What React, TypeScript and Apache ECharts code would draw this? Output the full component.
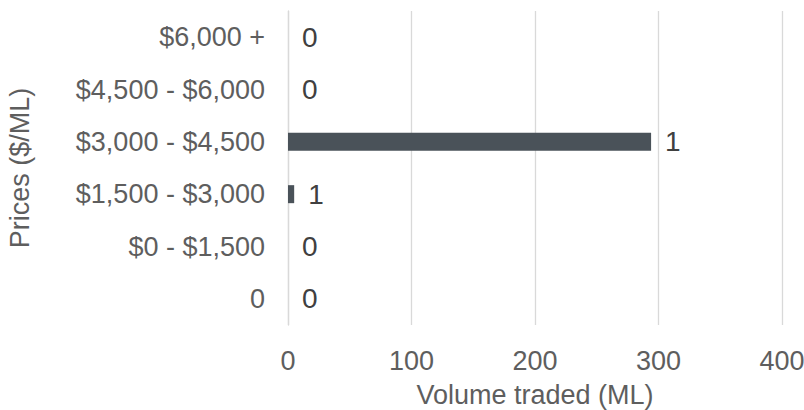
import React, { useEffect, useRef } from "react";
import * as echarts from "echarts";

const categories = ["0", "$0 - $1,500", "$1,500 - $3,000", "$3,000 - $4,500", "$4,500 - $6,000", "$6,000 +"];
const volumes = [0, 0, 5, 294, 0, 0];
const tradeCounts = ["0", "0", "1", "1", "0", "0"];
const xTicks = { min: 0, max: 400, interval: 100 };

export default function App() {
  const ref = useRef<HTMLDivElement>(null);
  useEffect(() => {
    if (!ref.current) return;
    const chart = echarts.init(ref.current, undefined, { renderer: "svg" });
    const font = "'Liberation Sans', Arial, sans-serif";
    chart.setOption({
      animation: false,
      grid: { left: 288, right: 22, top: 11, bottom: 85, outerBoundsMode: "none", containLabel: false },
      xAxis: {
        type: "value",
        min: xTicks.min,
        max: xTicks.max,
        interval: xTicks.interval,
        name: "Volume traded (ML)",
        nameLocation: "middle",
        nameGap: 56,
        nameTextStyle: { color: "#5e5e5e", fontSize: 27, fontFamily: font },
        axisLine: { show: false },
        axisTick: { show: false },
        axisLabel: { color: "#5e5e5e", fontSize: 27, fontFamily: font, margin: 22 },
        splitLine: { lineStyle: { color: "#d9d9d9", width: 1.3 } },
      },
      yAxis: {
        type: "category",
        data: categories,
        name: "Prices ($/ML)",
        nameLocation: "middle",
        nameGap: 255,
        nameTextStyle: { color: "#5e5e5e", fontSize: 27, fontFamily: font },
        axisLine: { show: true, lineStyle: { color: "#d9d9d9", width: 1.3 } },
        axisTick: { show: false },
        axisLabel: { color: "#5e5e5e", fontSize: 27, fontFamily: font, margin: 23 },
        splitLine: { show: false },
      },
      series: [
        {
          type: "bar",
          data: volumes,
          barWidth: 18,
          itemStyle: { color: "#4a5259" },
          label: {
            show: true,
            position: "right",
            distance: 14,
            color: "#404040",
            fontSize: 28,
            fontFamily: font,
            formatter: (p: any) => tradeCounts[p.dataIndex],
          },
        },
      ],
    });
    return () => chart.dispose();
  }, []);
  return <div ref={ref} style={{ width: 804, height: 410, position: "absolute", left: 0, top: 0 }} />;
}
